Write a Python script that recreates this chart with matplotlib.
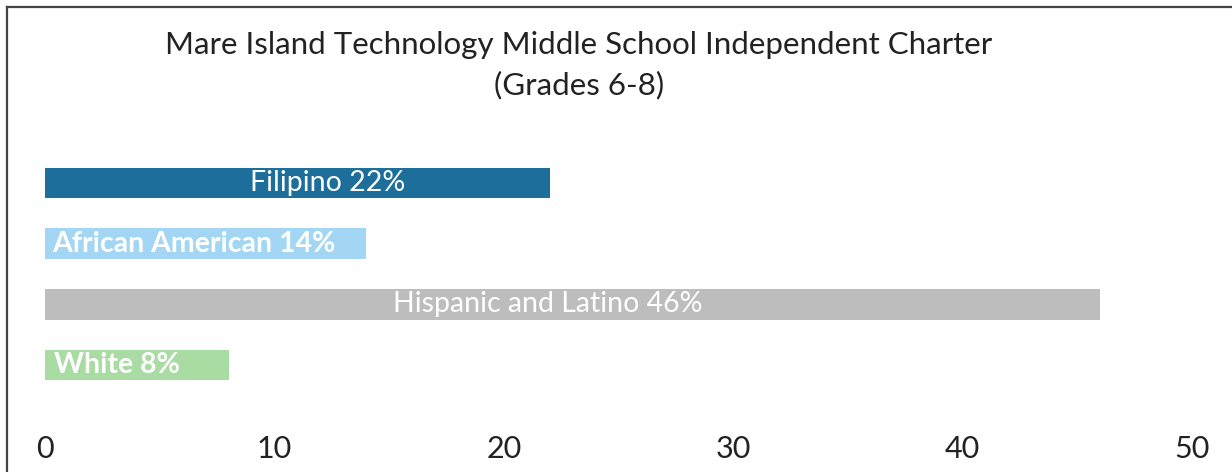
import matplotlib
matplotlib.use('Agg')
import matplotlib.pyplot as plt
from matplotlib.lines import Line2D

# data
groups = ['Filipino', 'African American', 'Hispanic and Latino', 'White']
percents = [22, 14, 46, 8]
bar_colors = ['#1d6e9a', '#a3d6f5', '#bdbdbd', '#a8dca2']
label_x = [12.3, 0.3, 21.9, 0.4]
label_ha = ['center', 'left', 'center', 'left']
label_weight = ['normal', 'bold', 'normal', 'bold']
ticks = [0, 10, 20, 30, 40, 50]

title = 'Mare Island Technology Middle School Independent Charter\n(Grades 6-8)'

W, H = 1232, 472
fig = plt.figure(figsize=(W / 100, H / 100), dpi=100)
ax = fig.add_axes([45 / W, 1 - 407.5 / H, 1147 / W, 267 / H])

ypos = list(range(len(groups)))
ax.barh(ypos, percents, height=0.5, color=bar_colors)
for y, g, p, lx, ha, wt in zip(ypos, groups, percents, label_x, label_ha, label_weight):
    ax.text(lx, y, f'{g} {p}%', ha=ha, va='center', color='white',
            fontsize=20.5, family='Lato', fontweight=wt)

ax.set_xlim(0, 50)
ax.set_ylim(3.7, -0.7)
ax.set_xticks(ticks)
ax.set_xticklabels([str(t) for t in ticks], fontsize=22, family='Lato', color='#222222')
ax.set_yticks([])
ax.tick_params(axis='x', length=0, pad=20)
for s in ax.spines.values():
    s.set_visible(False)

fig.text(579 / W, 1 - 65 / H, title, ha='center', va='center', fontsize=22.5,
         family='Lato', color='#222222', linespacing=1.5)

# border of the chart area (only left and top edges show in the crop)
fig.add_artist(Line2D([7 / W, 7 / W], [0, 1 - 7 / H], color='#444444', lw=1.6))
fig.add_artist(Line2D([7 / W, 1], [1 - 7 / H, 1 - 7 / H], color='#444444', lw=1.6))

fig.savefig('out.png', dpi=100)
